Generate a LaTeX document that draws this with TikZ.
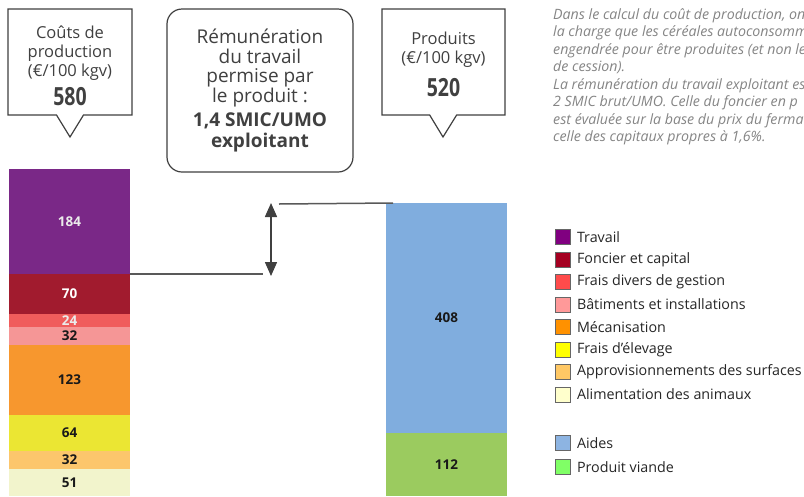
\documentclass[tikz,border=0pt]{standalone}
\usepackage{fontspec}
\setmainfont{Open Sans}
\usetikzlibrary{arrows.meta, positioning, shapes.callouts}

\definecolor{gristexte}{HTML}{404040}
\definecolor{grisnote}{HTML}{858585}
\definecolor{bartravail}{HTML}{7A2887}
\definecolor{barfoncier}{HTML}{A11B2E}
\definecolor{bardivers}{HTML}{F05C5C}
\definecolor{barbatiment}{HTML}{F59696}
\definecolor{barmeca}{HTML}{F7972E}
\definecolor{barelevage}{HTML}{EBE633}
\definecolor{barappro}{HTML}{FCC66C}
\definecolor{baralim}{HTML}{F2F4CC}
\definecolor{baraides}{HTML}{80ADDE}
\definecolor{barviande}{HTML}{9BCB5F}
\definecolor{legtravail}{HTML}{800080}
\definecolor{legfoncier}{HTML}{A50021}
\definecolor{legdivers}{HTML}{FF4B4B}
\definecolor{legbatiment}{HTML}{FF9999}
\definecolor{legmeca}{HTML}{FF9100}
\definecolor{legelevage}{HTML}{FFFF00}
\definecolor{legappro}{HTML}{FFC865}
\definecolor{legalim}{HTML}{FFFFCC}
\definecolor{legaides}{HTML}{8DB4E2}
\definecolor{legviande}{HTML}{80FF66}

\newcommand{\grandnombre}[1]{\scalebox{0.78}[1]{\fontsize{25}{25}\selectfont\bfseries #1}}

\begin{document}
\begin{tikzpicture}[x=1pt, y=-1pt,
  seg/.style={rectangle, inner sep=0pt, outer sep=0pt, minimum width=121pt,
    anchor=north, font=\fontsize{13.5}{15}\selectfont\bfseries, text=black!90},
  bulle/.style={rectangle callout, draw=gristexte, line width=1.2pt, fill=white,
    minimum width=124pt, minimum height=106pt, callout pointer width=27pt},
  bulletexte/.style={align=center, text=gristexte, inner sep=0pt,
    font=\fontsize{16.5}{19}\selectfont},
  legbox/.style={draw=black!60, line width=0.6pt, minimum size=15pt, inner sep=0pt},
  legtext/.style={font=\fontsize{14.3}{16}\selectfont, text=black!85, inner sep=0pt},
  trait/.style={draw=black!65, line width=1.5pt},
  cote/.style={draw=gristexte, line width=1.5pt,
    {Triangle[width=12pt,length=14pt]}-{Triangle[width=12pt,length=14pt]}}]

  \useasboundingbox[fill=white] (0,0) rectangle (804,496);

  \node[bulle, callout absolute pointer={(70,137)}] (cout) at (70,62) {};
  \node[bulletexte] (couttexte) at (70,66)
    {Coûts de\\production\\(€/100 kgv)\\[6pt]\grandnombre{580}};
  \node[bulle, minimum width=123pt, callout absolute pointer={(443,137)}] (produit) at (443.5,62) {};
  \node[bulletexte] (produittexte) at (443.5,64)
    {Produits\\(€/100 kgv)\\[10pt]\grandnombre{520}};
  \node[draw=gristexte, line width=1.2pt, rounded corners=15pt, minimum width=186pt,
    minimum height=163pt, align=center, text=gristexte,
    font=\fontsize{19}{19.5}\selectfont] (remun) at (260,90.5)
    {Rémunération\\du travail\\permise par\\le produit :\\[5pt]
     {\bfseries 1,4 SMIC/UMO}\\[1pt]{\bfseries exploitant}};

  \node[anchor=north west, inner sep=0pt, align=left, text=grisnote,
    font=\fontsize{14.2}{17.5}\selectfont\itshape] (note) at (553,8)
    {Dans le calcul du coût de production, on\\
     la charge que les céréales autoconsomm\\
     engendrée pour être produites (et non le\\
     de cession).\\
     La rémunération du travail exploitant est\\
     2 SMIC brut/UMO. Celle du foncier en p\\
     est évaluée sur la base du prix du ferma\\
     celle des capitaux propres à 1,6\%.};

  % couts de production
  \node[seg, fill=bartravail, minimum height=105pt, text=white!92!black] (travail) at (69.5,169) {184};
  \node[seg, fill=barfoncier, minimum height=39.5pt, text=white] (foncier) at (travail.south) {70};
  \node[seg, fill=bardivers, minimum height=13.5pt, text=white!92!black] (divers) at (foncier.south) {24};
  \node[seg, fill=barbatiment, minimum height=18pt] (batiment) at (divers.south) {32};
  \node[seg, fill=barmeca, minimum height=69.5pt] (meca) at (batiment.south) {123};
  \node[seg, fill=barelevage, minimum height=36pt] (elevage) at (meca.south) {64};
  \node[seg, fill=barappro, minimum height=18pt] (appro) at (elevage.south) {32};
  \node[seg, fill=baralim, minimum height=27.5pt] (alim) at (appro.south) {51};

  % produits
  \node[seg, fill=baraides, minimum height=230pt] (aides) at (446.5,203) {408};
  \node[seg, fill=barviande, minimum height=63pt] (viande) at (aides.south) {112};

  \coordinate (gauche) at (263,274);
  \coordinate (droite) at (279,204);
  \coordinate (haut) at (271,203);
  \coordinate (bas) at (271,276);
  \draw[trait] (travail.south east) -- (gauche);
  \draw[trait] (droite) -- ([xshift=7pt]aides.north west);
  \draw[cote] (haut) -- (bas);

  \foreach \col/\yy/\nom [count=\i] in {legtravail/237/Travail,
      legfoncier/259.5/Foncier et capital, legdivers/282/Frais divers de gestion,
      legbatiment/304.5/Bâtiments et installations, legmeca/327/Mécanisation,
      legelevage/349.5/Frais d’élevage, legappro/372/Approvisionnements des surfaces,
      legalim/394.5/Alimentation des animaux, legaides/443/Aides,
      legviande/467/Produit viande} {
    \node[legbox, fill=\col] (leg\i) at (563,\yy) {};
    \node[legtext, right=6pt of leg\i] (legt\i) {\nom};
  }
\end{tikzpicture}
\end{document}
